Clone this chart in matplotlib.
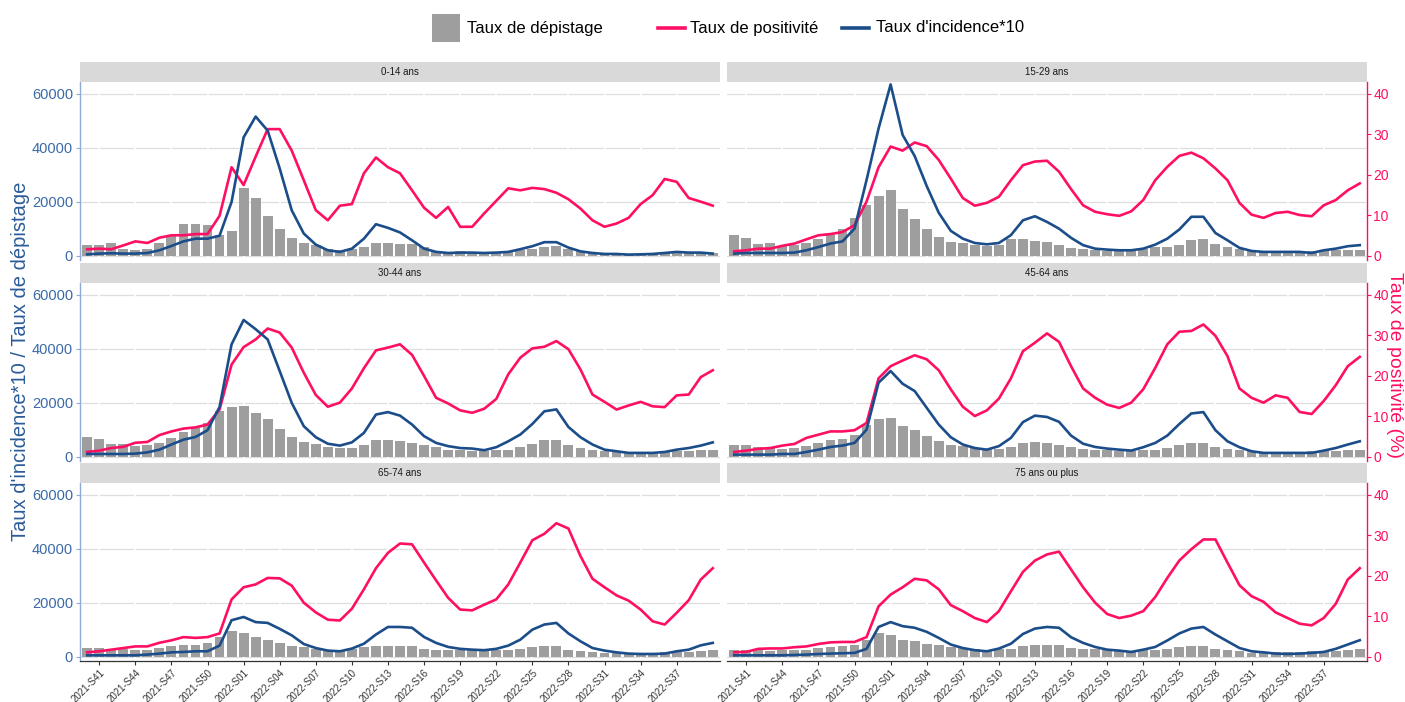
import numpy as np
import matplotlib
matplotlib.use("Agg")
import matplotlib.pyplot as plt
from matplotlib.patches import Rectangle
from matplotlib.lines import Line2D

plt.rcParams['font.family'] = ['Liberation Sans', 'DejaVu Sans']

# ---------------- data ----------------
weeks = [f"2021-S{w}" for w in range(40, 53)] + [f"2022-S{w:02d}" for w in range(1, 41)]
tick_labels = ["2021-S41", "2021-S44", "2021-S47", "2021-S50", "2022-S01", "2022-S04", "2022-S07",
               "2022-S10", "2022-S13", "2022-S16", "2022-S19", "2022-S22", "2022-S25", "2022-S28",
               "2022-S31", "2022-S34", "2022-S37"]

groups = ["0-14 ans", "15-29 ans", "30-44 ans", "45-64 ans", "65-74 ans", "75 ans ou plus"]

dep_0_14 = [4050,4050,4660,2700,2100,2600,4900,7400,11800,12000, 11500,7700,9300,25150,21500,14700,9900,6700,4700,4000,
            2450,2100,2700,3340,4800,4800,4600,4300,3300,1850, 1500,1700,1500,1240,1500,1700,2100,2700,3300,3700,
            2500,1700,1200,870,870,740,870,1000,1500,1700, 1500,1500,1100]
pos_0_14 = [1.65,1.8,1.65,2.6,3.6,3.2,4.5,5.1,5.1,5.4, 5.4,9.9,21.9,17.5,24.5,31.3,31.3,26.0,18.7,11.3,
            8.8,12.4,12.8,20.4,24.3,21.9,20.4,16.2,11.9,9.4, 12.1,7.2,7.2,10.5,13.6,16.7,16.2,16.8,16.5,15.6,
            14.0,11.7,8.8,7.2,8.0,9.4,12.8,15.0,19.0,18.3, 14.3,13.4,12.4]
inc_0_14 = [600,870,1000,870,870,1100,2100,3700,5400,6400, 6400,7500,20000,43900,51600,46400,32400,16900,8300,4200,
            2100,1500,2700,6400,11750,10400,8700,5800,2700,1500, 1100,1240,1240,1100,1240,1500,2500,3600,5100,5100,
            3100,1700,1100,740,740,500,600,740,1100,1500, 1240,1240,870]

dep_15_29 = [7700,6700,4600,4800,3700,4200,4900,6400,7700,9900, 14100,19000,22100,24400,17300,13600,9900,7050,5200,4800,
             4000,3700,4200,6100,6400,5400,5200,4000,3000,2500, 2100,1900,1700,2100,2500,3300,3300,4000,5800,6100,
             4300,3300,2700,2100,1700,1500,1500,1700,1900,2100, 2350,2350,2350]
pos_15_29 = [1.15,1.4,1.8,1.8,2.5,3.05,4.1,5.1,5.4,5.9, 7.6,13.4,21.9,27.0,26.0,28.0,27.1,23.7,19.1,14.3,
             12.4,13.1,14.6,18.7,22.4,23.3,23.5,20.8,16.5,12.5, 10.9,10.3,9.9,11.0,13.8,18.7,22.0,24.7,25.5,24.1,
             21.6,18.7,13.1,10.2,9.4,10.6,10.9,10.1,9.8,12.5, 13.8,16.2,17.9]
inc_15_29 = [870,1100,1100,1100,1100,1240,2100,3300,4600,5400, 10100,28100,47200,63500,44800,37000,25900,16000,9300,6400,
             4800,4300,4800,7700,13200,14700,12600,10100,6700,4000, 2700,2350,2100,2100,2700,4200,6400,9800,14500,14500,
             8500,5800,3000,1850,1500,1500,1500,1500,1100,2100, 2700,3600,4000]

dep_30_44 = [7400,6800,4800,4800,4200,4300,5200,7050,9300,10800, 12400,16900,18400,19000,16200,14100,10400,7400,5400,4800,
             3700,3300,3300,4300,6100,6400,5800,5200,4300,3700, 2700,2500,2350,2100,2500,2700,3700,4900,6200,6200,
             4300,3300,2700,2350,1850,1700,1700,1700,2100,2100, 2350,2500,2700]
pos_30_44 = [1.25,1.55,2.2,2.5,3.5,3.7,5.4,6.3,7.0,7.3, 8.0,11.7,22.8,27.1,29.0,31.7,30.7,27.0,20.8,15.3,
             12.4,13.4,16.9,21.9,26.3,27.0,27.8,25.2,20.0,14.6, 13.2,11.5,10.9,11.9,14.3,20.4,24.5,26.8,27.2,28.6,
             26.6,21.6,15.4,13.6,11.7,12.7,13.6,12.5,12.3,15.2, 15.4,19.7,21.4]
inc_30_44 = [1100,1100,1100,1100,1240,1700,2700,4600,6400,7400, 9900,18500,41700,50700,47300,43500,31800,20000,11400,7300,
             4900,4200,5400,8900,15700,16600,15300,12000,7700,5200, 4000,3300,3100,2500,3600,5800,8300,12200,16900,17600,
             11100,7300,4600,2700,2100,1500,1500,1500,1850,2700, 3300,4200,5400]

dep_45_64 = [4600,4600,3600,3600,3000,3300,4000,5200,6400,6800, 8300,12000,14100,14300,11400,9900,7700,5800,4600,4000,
             3300,3000,3100,3700,5200,5400,5200,4600,3600,3000, 2500,2500,2350,2100,2500,2700,3300,4300,5200,5200,
             3700,3100,2500,2100,1850,1700,1700,1700,2100,2500, 2100,2500,2700]
pos_45_64 = [1.25,1.55,2.0,2.2,2.8,3.2,4.7,5.5,6.3,6.3, 6.6,8.4,19.4,22.4,23.8,25.1,24.1,21.4,16.7,12.4,
             10.1,11.5,14.4,19.4,26.1,28.2,30.5,28.4,22.4,16.9, 14.6,12.9,12.1,13.4,16.7,22.0,27.8,30.9,31.1,32.7,
             29.9,24.9,16.9,14.6,13.4,15.2,14.6,11.1,10.6,13.8, 17.7,22.4,24.7]
inc_45_64 = [870,870,870,870,1100,1100,1850,2700,3700,4200, 5200,10100,27500,31800,27100,24400,18200,12000,7300,4600,
             3300,2700,4000,7050,12900,15300,14800,13000,7900,4900, 3700,3100,2700,2350,3600,5200,7900,12200,16100,16600,
             9900,5800,3600,2100,1500,1500,1500,1500,1500,2350, 3300,4600,5800]

dep_65_74 = [3300,3300,3000,3000,2700,2700,3300,4000,4300,4600, 5200,7400,9500,8700,7300,6400,5200,4200,3700,3100,
             2700,2500,3100,3600,4000,4200,4000,4000,3100,2700, 2700,2700,2500,2350,2700,2500,3000,3700,4000,4000,
             2700,2350,1850,1500,1700,1500,1500,1500,1700,1700, 1700,2100,2500]
pos_65_74 = [1.15,1.4,1.8,2.2,2.6,2.6,3.5,4.1,4.9,4.7, 4.9,5.8,14.2,17.2,17.9,19.5,19.4,17.6,13.4,11.0,
             9.2,9.0,11.9,16.7,21.9,25.7,28.0,27.8,23.3,18.9, 14.6,11.7,11.5,12.9,14.2,17.9,23.3,28.8,30.4,33.0,
             31.7,24.9,19.3,17.2,15.2,13.9,11.7,8.8,8.0,10.9, 14.0,19.1,21.9]
inc_65_74 = [600,600,600,600,600,870,1240,1700,1850,2100, 2100,4200,13600,14800,12900,12600,10400,8000,4800,3300,
             2350,2100,3100,4900,8300,11100,11100,10800,7400,5200, 3700,3000,2700,2500,3000,4200,6400,10100,12000,12600,
             8700,5800,3300,2350,1700,1240,1100,1100,1240,2100, 2700,4300,5200]

dep_75 = [2700,2700,2500,2100,2500,2500,2700,3300,3700,4000, 4300,6200,8700,8300,6400,5800,4900,4300,3700,3300,
          3000,2500,3000,3100,4000,4300,4300,4300,3300,3100, 3000,2700,2500,2350,2700,2500,3100,3700,4000,4000,
          3000,2700,2100,1500,1700,1700,1700,1700,2100,2100, 2100,2700,3100]
pos_75 = [1.15,1.25,2.0,2.1,2.1,2.4,2.6,3.2,3.6,3.7, 3.7,4.9,12.5,15.4,17.2,19.3,18.9,16.7,12.8,11.3,
          9.6,8.6,11.3,16.2,21.0,23.8,25.3,26.0,21.6,17.2, 13.4,10.6,9.6,10.2,11.3,14.8,19.5,23.8,26.6,29.0,
          29.0,23.3,17.7,15.0,13.6,11.0,9.6,8.2,7.8,9.6, 13.1,19.1,21.9]
inc_75 = [600,600,600,600,600,740,870,1100,1240,1360, 1500,3000,11100,12900,11400,10800,9300,7050,4600,3300,
          2500,2100,3100,4900,8500,10500,11100,10800,7300,5200, 3700,2700,2350,1850,2700,3700,6100,8700,10500,11100,
          8300,5800,3300,2100,1700,1240,1100,1240,1500,1850, 3000,4600,6200]

depistage = [dep_0_14, dep_15_29, dep_30_44, dep_45_64, dep_65_74, dep_75]
positivite = [pos_0_14, pos_15_29, pos_30_44, pos_45_64, pos_65_74, pos_75]
incidence = [inc_0_14, inc_15_29, inc_30_44, inc_45_64, inc_65_74, inc_75]

left_ticks = [0, 20000, 40000, 60000]
right_ticks = [0, 10, 20, 30, 40]
SCALE = 1500  # positivity (%) -> primary axis units

# ---------------- style ----------------
PINK = '#FF0F64'
BLUE = '#1B4D8A'
BAR = '#9E9E9E'
BLUE_TXT = '#3A6AA8'
BLUE_AX = '#8FAAD6'
GRID = '#DEDEDE'
STRIP = '#D9D9D9'

W, H = 1405, 702
fig = plt.figure(figsize=(W / 100, H / 100), dpi=100)

def fx(px):
    return px / W

cols = [(80, 720), (727, 1367)]
rows = [(62, 82, 260), (263, 283, 461), (463, 483, 661)]

n = len(weeks)
x = np.arange(n)
tick_idx = [weeks.index(t) for t in tick_labels]

for k, name in enumerate(groups):
    r, c = divmod(k, 2)
    x0, x1 = cols[c]
    st, p0, p1 = rows[r]
    ax = fig.add_axes([fx(x0), 1 - p1 / H, fx(x1 - x0), (p1 - p0) / H])
    ax.bar(x, depistage[k], width=0.82, color=BAR, zorder=2)
    ax.plot(x, np.array(positivite[k]) * SCALE, color=PINK, lw=1.9, zorder=3,
            solid_joinstyle='round')
    ax.plot(x, incidence[k], color=BLUE, lw=1.9, zorder=4, solid_joinstyle='round')
    ax.set_xlim(-0.6, n - 0.4)
    ax.set_ylim(-1500, 64400)
    for yv in left_ticks:
        ax.axhline(yv, color=GRID, lw=0.9, zorder=0.4)
    for xv in tick_idx:
        ax.axvline(xv, color='white', lw=1.3, zorder=0.45)
    for s in ['top', 'right', 'left', 'bottom']:
        ax.spines[s].set_visible(False)
    ax.set_xticks(tick_idx)
    ax.set_yticks(left_ticks)
    if r == 2:
        ax.spines['bottom'].set_visible(True)
        ax.spines['bottom'].set_color('#333333')
        ax.spines['bottom'].set_linewidth(0.9)
        ax.set_xticklabels(tick_labels, rotation=45, ha='right',
                           rotation_mode='anchor', fontsize=7, color='#333333')
        ax.tick_params(axis='x', length=3, color='#333333', pad=2)
    else:
        ax.tick_params(axis='x', bottom=False, labelbottom=False)
    if c == 0:
        ax.spines['left'].set_visible(True)
        ax.spines['left'].set_color(BLUE_AX)
        ax.spines['left'].set_linewidth(1.0)
        ax.set_yticklabels([str(v) for v in left_ticks], fontsize=10.5, color=BLUE_TXT)
        ax.tick_params(axis='y', length=3, color=BLUE_AX, pad=2)
    else:
        ax.tick_params(axis='y', left=False, labelleft=False)
        sec = ax.secondary_yaxis('right', functions=(lambda y: y / SCALE, lambda p: p * SCALE))
        sec.set_yticks(right_ticks)
        sec.set_yticklabels([str(v) for v in right_ticks], fontsize=10, color=PINK)
        sec.spines['right'].set_color(PINK)
        sec.spines['right'].set_linewidth(1.0)
        sec.tick_params(axis='y', length=3, color=PINK, pad=1.5)
    # strip
    sax = fig.add_axes([fx(x0), 1 - (st + 20) / H, fx(x1 - x0), 20 / H])
    sax.set_facecolor(STRIP)
    sax.set_xticks([])
    sax.set_yticks([])
    for s in sax.spines.values():
        s.set_visible(False)
    sax.text(0.5, 0.5, name, ha='center', va='center', fontsize=7, color='#1A1A1A',
             transform=sax.transAxes)

# axis titles
fig.text(fx(21), 1 - 361 / H, "Taux d'incidence*10 / Taux de dépistage", rotation=90,
         ha='center', va='center', fontsize=14.5, color='#2B5C98')
fig.text(fx(1395), 1 - 365 / H, "Taux de positivité (%)", rotation=270,
         ha='center', va='center', fontsize=14, color=PINK)

# legend
ly = 1 - 28 / H
fig.add_artist(Rectangle((fx(432), 1 - 42 / H), fx(28), 28 / H, transform=fig.transFigure,
                         facecolor=BAR, edgecolor='none'))
fig.text(fx(467), ly, "Taux de dépistage", ha='left', va='center', fontsize=12, color='black')
fig.add_artist(Line2D([fx(658), fx(685)], [ly, ly], transform=fig.transFigure, color=PINK, lw=2.6))
fig.text(fx(690), ly, "Taux de positivité", ha='left', va='center', fontsize=12, color='black')
fig.add_artist(Line2D([fx(842), fx(869)], [ly, ly], transform=fig.transFigure, color=BLUE, lw=2.6))
fig.text(fx(876), ly, "Taux d'incidence*10", ha='left', va='center', fontsize=12, color='black')

fig.savefig("out.png", dpi=100, facecolor='white')
